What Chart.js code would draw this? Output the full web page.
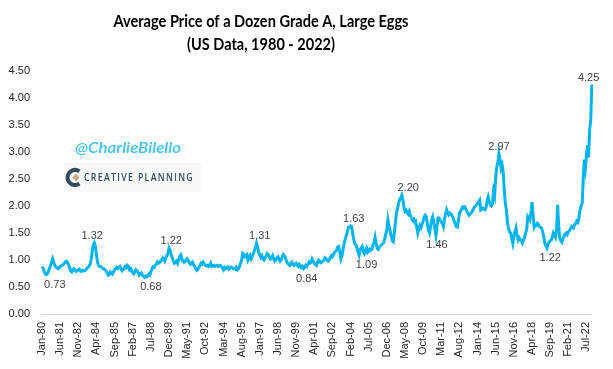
<!DOCTYPE html>
<html>
<head>
<meta charset="utf-8">
<script src="https://cdn.jsdelivr.net/npm/chart.js@4.4.0/dist/chart.umd.min.js"></script>
<style>
  html, body { margin: 0; padding: 0; background: #fff; }
  #wrap { width: 613px; height: 369px; }
</style>
</head>
<body>
<div id="wrap"><canvas id="eggChart" width="613" height="369"></canvas></div>
<script>
const monthNames = ['Jan','Feb','Mar','Apr','May','Jun','Jul','Aug','Sep','Oct','Nov','Dec'];
const years = [];
for (let y = 1980; y <= 2022; y++) years.push(y);

// avg price, $ per dozen, monthly
const prices1980s = [
  0.88,0.85,0.79,0.74,0.73,0.75,0.79,0.84,0.90,0.96,1.02,0.95,
  0.90,0.87,0.86,0.84,0.85,0.88,0.89,0.90,0.92,0.94,0.97,0.98,
  0.95,0.90,0.85,0.80,0.78,0.82,0.84,0.81,0.79,0.80,0.82,0.83,
  0.80,0.79,0.81,0.80,0.80,0.82,0.84,0.86,0.88,0.92,1.00,1.15,
  1.28,1.32,1.25,1.10,0.96,0.90,0.88,0.88,0.86,0.84,0.84,0.82,
  0.80,0.76,0.72,0.73,0.78,0.76,0.74,0.78,0.82,0.84,0.86,0.84,
  0.86,0.88,0.84,0.80,0.82,0.84,0.88,0.86,0.90,0.88,0.82,0.84,
  0.80,0.76,0.74,0.78,0.82,0.80,0.77,0.72,0.74,0.76,0.72,0.70,
  0.68,0.70,0.69,0.72,0.74,0.72,0.78,0.84,0.87,0.86,0.90,0.92,
  0.96,0.94,0.95,0.98,1.00,1.04,1.02,0.98,1.04,1.08,1.12,1.22
];
const prices1990s = [
  1.18,1.10,1.04,0.98,0.94,0.96,0.98,0.94,1.00,1.06,1.09,1.02,
  0.98,0.96,0.98,1.00,1.02,0.98,0.95,0.92,0.94,0.96,0.91,0.88,
  0.84,0.81,0.83,0.86,0.90,0.94,0.92,0.96,0.93,0.90,0.89,0.90,
  0.88,0.90,0.94,0.88,0.89,0.90,0.88,0.89,0.90,0.88,0.89,0.90,
  0.88,0.86,0.82,0.86,0.84,0.86,0.87,0.83,0.85,0.87,0.86,0.84,
  0.84,0.83,0.86,0.82,0.84,0.88,0.94,1.00,1.12,1.10,1.06,1.08,
  1.10,1.00,1.04,1.08,1.02,1.06,1.12,1.18,1.22,1.31,1.24,1.14,
  1.10,1.05,1.08,1.02,1.00,1.04,1.08,1.12,1.10,1.06,1.02,1.04,
  1.08,1.02,0.98,1.00,1.04,1.06,1.02,0.98,1.00,1.06,1.10,1.08,
  1.04,0.98,0.94,0.92,0.90,0.94,0.96,0.92,0.90,0.92,0.94,0.90
];
const prices2000s = [
  0.88,0.92,0.90,0.86,0.88,0.84,0.86,0.90,0.88,0.92,0.96,0.94,
  0.96,1.02,0.98,0.94,0.92,0.90,0.96,1.00,0.98,0.95,0.96,0.98,
  1.00,1.04,1.02,1.00,0.98,1.00,1.04,1.08,1.06,1.10,1.14,1.16,
  1.18,1.24,1.25,1.15,1.02,1.08,1.20,1.30,1.38,1.45,1.52,1.60,
  1.60,1.63,1.62,1.50,1.38,1.30,1.28,1.22,1.15,1.09,1.20,1.22,
  1.25,1.15,1.12,1.18,1.22,1.14,1.16,1.20,1.18,1.20,1.28,1.32,
  1.42,1.30,1.22,1.20,1.24,1.26,1.28,1.30,1.32,1.38,1.48,1.55,
  1.74,1.62,1.55,1.45,1.36,1.34,1.50,1.68,1.87,1.95,2.05,2.12,
  2.15,2.20,2.12,1.98,1.90,1.92,1.88,1.85,1.90,1.82,1.78,1.74,
  1.76,1.70,1.72,1.61,1.50,1.58,1.64,1.60,1.66,1.72,1.80,1.83
];
const prices2010s = [
  1.80,1.66,1.55,1.50,1.62,1.74,1.80,1.70,1.58,1.46,1.62,1.78,
  1.78,1.74,1.70,1.68,1.62,1.75,1.85,1.93,1.88,1.84,1.87,1.86,
  1.82,1.78,1.72,1.68,1.62,1.61,1.72,1.87,1.90,1.94,1.98,1.96,
  1.98,1.94,1.90,1.86,1.83,1.85,1.87,1.90,1.94,1.98,2.00,2.02,
  2.04,2.08,2.11,1.93,1.95,1.96,1.94,1.93,1.98,2.10,2.17,2.08,
  2.02,2.00,2.04,2.28,2.20,2.54,2.72,2.82,2.97,2.86,2.70,2.76,
  2.63,2.30,2.05,1.93,1.70,1.59,1.52,1.50,1.40,1.31,1.45,1.52,
  1.59,1.45,1.37,1.41,1.38,1.35,1.31,1.36,1.42,1.50,1.56,1.80,
  1.77,1.74,1.88,2.07,1.84,1.61,1.65,1.64,1.68,1.66,1.62,1.60,
  1.59,1.52,1.44,1.31,1.26,1.22,1.30,1.33,1.36,1.37,1.42,1.50
];
const prices2020s = [
  1.46,1.42,1.55,2.02,1.62,1.40,1.36,1.33,1.40,1.44,1.48,1.50,
  1.47,1.52,1.54,1.58,1.62,1.60,1.59,1.66,1.68,1.72,1.70,1.79,
  1.93,2.00,2.05,2.52,2.86,2.71,2.94,3.12,2.90,3.42,3.59,4.25
];

const tickLabels = ['Jan-80','Jun-81','Nov-82','Apr-84','Sep-85','Feb-87','Jul-88','Dec-89','May-91',
  'Oct-92','Mar-94','Aug-95','Jan-97','Jun-98','Nov-99','Apr-01','Sep-02','Feb-04','Jul-05','Dec-06',
  'May-08','Oct-09','Mar-11','Aug-12','Jan-14','Jun-15','Nov-16','Apr-18','Sep-19','Feb-21','Jul-22'];

// value callouts: which month the text sits on, and above / below the line
const callouts = [
  { at: 'Jan-81', text: '0.73', pos: 'below' },
  { at: 'Dec-83', text: '1.32', pos: 'above' },
  { at: 'Jul-88', text: '0.68', pos: 'below' },
  { at: 'Feb-90', text: '1.22', pos: 'above' },
  { at: 'Jan-97', text: '1.31', pos: 'above' },
  { at: 'Sep-00', text: '0.84', pos: 'below' },
  { at: 'May-04', text: '1.63', pos: 'above' },
  { at: 'May-05', text: '1.09', pos: 'below' },
  { at: 'Aug-08', text: '2.20', pos: 'above' },
  { at: 'Nov-10', text: '1.46', pos: 'below' },
  { at: 'Sep-15', text: '2.97', pos: 'above' },
  { at: 'Sep-19', text: '1.22', pos: 'below' },
  { at: 'Sep-22', text: '4.25', pos: 'above' }
];

const labels = [];
years.forEach(y => monthNames.forEach(m => labels.push(m + '-' + String(y).slice(2))));
const prices = [].concat(prices1980s, prices1990s, prices2000s, prices2010s, prices2020s);

// draws text squeezed to a target width (Calibri-ish look)
function drawFitText(ctx, text, x, y, font, color, width, align) {
  ctx.save();
  ctx.font = font;
  ctx.fillStyle = color;
  ctx.textBaseline = 'middle';
  ctx.textAlign = 'left';
  const w = ctx.measureText(text).width;
  const sx = width / w;
  let left = x;
  if (align === 'center') left = x - width / 2;
  ctx.translate(left, y);
  ctx.scale(sx, 1);
  ctx.fillText(text, 0, 0);
  ctx.restore();
}

const decorPlugin = {
  id: 'decor',
  afterDatasetsDraw(chart) {
    const ctx = chart.ctx;
    const xs = chart.scales.x, ys = chart.scales.y;

    // callouts
    ctx.save();
    ctx.font = '11px "Liberation Sans"';
    ctx.fillStyle = '#404040';
    ctx.textAlign = 'center';
    ctx.textBaseline = 'middle';
    callouts.forEach(c => {
      const i = labels.indexOf(c.at);
      const px = xs.getPixelForValue(i);
      const py = ys.getPixelForValue(parseFloat(c.text));
      ctx.fillText(c.text, px, c.pos === 'above' ? py - 7 : py + 10);
    });
    ctx.restore();

    // title
    drawFitText(ctx, 'Average Price of a Dozen Grade A, Large Eggs', 261, 22, 'bold 17px Lato', '#000', 295, 'center');
    drawFitText(ctx, '(US Data, 1980 - 2022)', 261, 45, 'bold 17px Lato', '#000', 148, 'center');

    // watermark
    drawFitText(ctx, '@CharlieBilello', 75, 148, 'italic 600 15px Lato', '#3ec1f3', 106, 'left');

    // logo
    ctx.save();
    ctx.fillStyle = '#f8f8f8';
    ctx.fillRect(64, 163, 137, 29);
    ctx.strokeStyle = '#2f4b5c';
    ctx.lineWidth = 4;
    ctx.beginPath();
    ctx.arc(75, 177.5, 7.5, 0.3 * Math.PI, 1.7 * Math.PI);
    ctx.stroke();
    ctx.fillStyle = '#c9a97f';
    ctx.beginPath();
    ctx.moveTo(76, 173.5); ctx.lineTo(79.5, 177.5); ctx.lineTo(76, 181.5); ctx.lineTo(72.5, 177.5);
    ctx.closePath();
    ctx.fill();
    ctx.restore();
    ctx.save();
    ctx.letterSpacing = '1.5px';
    drawFitText(ctx, 'CREATIVE PLANNING', 84, 178, '600 10px "Open Sans"', '#2f4b5c', 110, 'left');
    ctx.restore();
  }
};

new Chart(document.getElementById('eggChart'), {
  type: 'line',
  data: {
    labels: labels,
    datasets: [{
      data: prices,
      borderColor: '#00b4f0',
      borderWidth: 3,
      pointRadius: 0,
      tension: 0,
      fill: false
    }]
  },
  options: {
    responsive: false,
    animation: false,
    events: [],
    layout: { padding: { top: 71, right: 16, bottom: 0, left: 0 } },
    plugins: {
      legend: { display: false },
      title: { display: false },
      tooltip: { enabled: false }
    },
    scales: {
      x: {
        offset: false,
        grid: { display: false, drawTicks: false },
        border: { display: true, color: '#d9d9d9', width: 1 },
        ticks: {
          autoSkip: false,
          maxRotation: 90,
          minRotation: 90,
          padding: 8,
          color: '#262626',
          font: { family: '"Liberation Sans"', size: 11 },
          callback: function (val, i) {
            return tickLabels.includes(labels[i]) ? labels[i] : '';
          }
        },
        afterFit: function (s) { s.height = 55; }
      },
      y: {
        min: 0,
        max: 4.5,
        grid: { display: false, drawTicks: false },
        border: { display: false },
        ticks: {
          stepSize: 0.5,
          padding: 12,
          color: '#262626',
          font: { family: '"Liberation Sans"', size: 11 },
          callback: v => v.toFixed(2)
        },
        afterFit: function (s) { s.width = 42; }
      }
    }
  },
  plugins: [decorPlugin]
});
</script>
</body>
</html>
